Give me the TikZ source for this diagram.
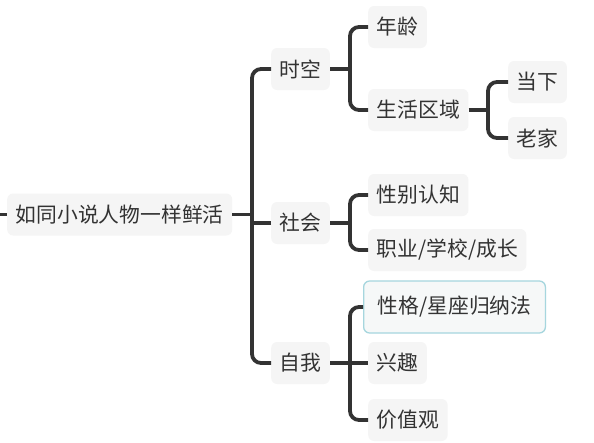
\documentclass[tikz,border=0pt]{standalone}
\usepackage{fontspec}
\setmainfont{Noto Sans CJK SC}
\begin{document}
\begin{tikzpicture}[x=1pt,y=1pt,
  topic/.style={fill=boxfill,rounded corners=6pt,text=txt,font=\fontsize{20.8}{24}\selectfont,
    inner xsep=8.5pt,inner ysep=0pt,minimum height=42pt,anchor=west},
  hilite/.style={topic,draw=hiblue,line width=1.3pt,fill=hifill,inner xsep=14pt,minimum height=52pt},
  conn/.style={draw=linec,line width=3.8pt,rounded corners=9pt}]
\definecolor{boxfill}{HTML}{F5F5F5}
\definecolor{hifill}{HTML}{F6F8F8}
\definecolor{hiblue}{HTML}{A6D6DE}
\definecolor{txt}{HTML}{333333}
\definecolor{linec}{HTML}{333333}
\useasboundingbox[fill=white] (0,0) rectangle (594,-442);
% nodes
\node[topic] (root) at (7,-214.5) {如同小说人物一样鲜活};
\node[topic] (shikong) at (271,-69) {时空};
\node[topic] (shehui) at (271,-223) {社会};
\node[topic] (ziwo) at (271,-363) {自我};
\node[topic] (nianling) at (368,-27) {年龄};
\node[topic] (shenghuo) at (368,-110) {生活区域};
\node[topic] (dangxia) at (508,-82) {当下};
\node[topic] (laojia) at (508,-138) {老家};
\node[topic] (xingbie) at (368,-195) {性别认知};
\node[topic] (zhiye) at (368,-250) {职业/学校/成长};
\node[hilite] (xingge) at (363,-307) {性格/星座归纳法};
\node[topic] (xingqu) at (368,-363) {兴趣};
\node[topic] (jiazhi) at (368,-420) {价值观};
\coordinate (leftend) at (0,-214.5);
\coordinate (trunk) at ([xshift=-19pt]shikong.west);
\coordinate (b1) at ([xshift=-18pt]nianling.west);
\coordinate (b2) at ([xshift=-20pt]dangxia.west);
\coordinate (b3) at ([xshift=-18pt]xingbie.west);
% connectors
\draw[conn] (leftend) -- (root.west);
\draw[conn] (shikong.west) -- (trunk) |- (ziwo.west);
\draw[conn] (root.east) -- (root.east -| trunk);
\draw[conn] (shehui.west) -- (shehui.west -| trunk);
% 时空
\draw[conn] (shikong.east) -- (shikong.east -| b1);
\draw[conn] (nianling.west) -- (b1) |- (shenghuo.west);
% 生活区域
\draw[conn] (shenghuo.east) -- (shenghuo.east -| b2);
\draw[conn] (dangxia.west) -- (b2) |- (laojia.west);
% 社会
\draw[conn] (shehui.east) -- (shehui.east -| b3);
\draw[conn] (xingbie.west) -- (b3) |- (zhiye.west);
% 自我
\draw[conn] (ziwo.east) -- (xingqu.west);
\draw[conn] (xingge.west) -- ++(-13,0) |- (jiazhi.west);
\end{tikzpicture}
\end{document}
